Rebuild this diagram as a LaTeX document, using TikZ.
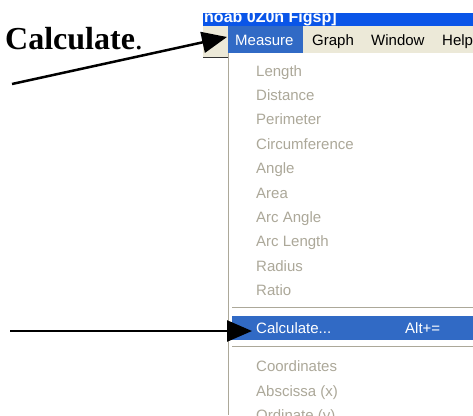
\documentclass[tikz,border=0pt]{standalone}
\usepackage{fontspec}
\setmainfont{Liberation Serif}
\newfontfamily\menufont{Liberation Sans}
\usetikzlibrary{arrows.meta}
\definecolor{xpblue}{HTML}{316AC5}
\definecolor{xpbeige}{HTML}{ECE9D8}
\definecolor{xpgrey}{HTML}{ACA899}
\definecolor{titleblue}{HTML}{0A55E8}
\begin{document}
\begin{tikzpicture}[x=1pt,y=-1pt,
  menuitem/.style={font=\menufont\fontsize{15}{18}\selectfont, text=xpgrey, anchor=base west, inner sep=0pt},
  baritem/.style={font=\menufont\fontsize{15}{18}\selectfont, text=black, anchor=base west, inner sep=0pt},
  hiitem/.style={font=\menufont\fontsize{15}{18}\selectfont, text=white, anchor=base west, inner sep=0pt},
  titletext/.style={font=\menufont\bfseries\fontsize{16}{19}\selectfont, text=white, anchor=base west, inner sep=0pt},
  sepline/.style={xpgrey, line width=1pt},
  bigarrow/.style={line width=2.5pt, -{Triangle[length=25pt,width=21pt]}}]
\useasboundingbox (0,0) rectangle (473,415);
\begin{scope}
\clip (0,0) rectangle (473,415);
% title bar
\fill[titleblue] (203,13) rectangle (473,26);
\begin{scope}
\clip (203,13.5) rectangle (473,26);
\node[titletext] (title) at (204,22.5) {noab 0Z0n Figsp]};
\end{scope}
% menu bar
\fill[xpbeige] (203,26) rectangle (473,53);
\fill[xpbeige] (203,53) rectangle (228,57);
\draw[line width=1.5pt, black!80] (203,57.5) -- (228,57.5);
\fill[xpblue] (228,26) rectangle (303,53);
\node[hiitem] (measure) at (235,45) {Measure};
\node[baritem] (graph) at (312,45) {Graph};
\node[baritem] (window) at (371,45) {Window};
\node[baritem] (help) at (442,45) {Help};
% dropdown
\fill[white] (228,53) rectangle (473,415);
\draw[xpgrey, line width=1pt] (228.5,53) -- (228.5,415);
\node[menuitem] (length) at (256,76) {Length};
\node[menuitem] (distance) at (256,100.4) {Distance};
\node[menuitem] (perimeter) at (256,124.8) {Perimeter};
\node[menuitem] (circ) at (256,149.2) {Circumference};
\node[menuitem] (angle) at (256,173.6) {Angle};
\node[menuitem] (area) at (256,198) {Area};
\node[menuitem] (arcangle) at (256,222.4) {Arc Angle};
\node[menuitem] (arclength) at (256,246.8) {Arc Length};
\node[menuitem] (radius) at (256,271.2) {Radius};
\node[menuitem] (ratio) at (256,295.6) {Ratio};
\draw[sepline] (232,307) -- (473,307);
\fill[xpblue] (232,316) rectangle (473,340);
\node[hiitem] (calcitem) at (256,333) {Calculate...};
\node[hiitem] (alt) at (405,333) {Alt+=};
\draw[sepline] (232,346) -- (473,346);
\node[menuitem] (coords) at (256,371) {Coordinates};
\node[menuitem] (absc) at (256,396) {Abscissa (x)};
\node[menuitem] (ordi) at (256,420.4) {Ordinate (y)};
\end{scope}
% label
\node[anchor=base west, inner sep=0pt, font=\fontsize{32}{36}\selectfont] (calc) at (5,49) {\textbf{Calculate}.};
% arrows
\coordinate (a1s) at (12,84);
\coordinate (a1e) at (227,37);
\draw[bigarrow] (a1s) -- (a1e);
\coordinate (a2s) at (10,331);
\coordinate (a2e) at (252,331);
\draw[bigarrow] (a2s) -- (a2e);
\end{tikzpicture}
\end{document}
